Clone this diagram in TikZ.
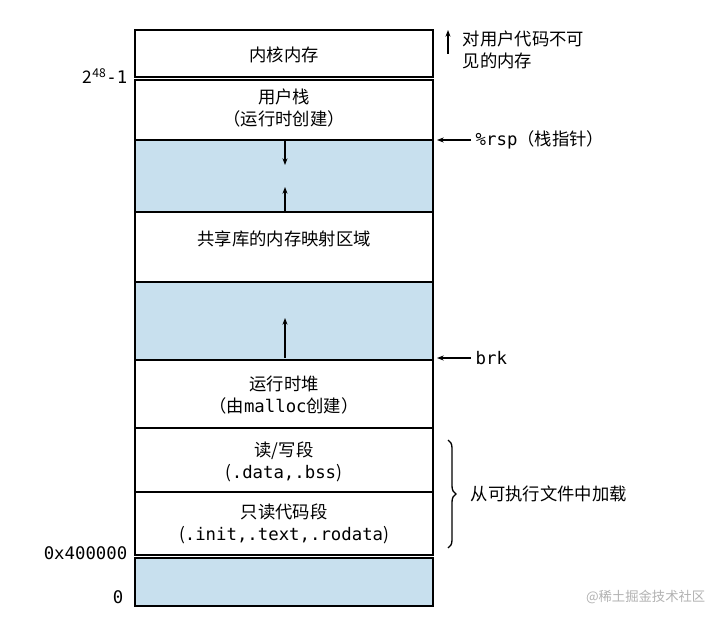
\documentclass[tikz,border=0pt]{standalone}
\usepackage{fontspec}
\setmainfont{Noto Sans CJK SC}[BoldFont={Noto Sans CJK SC Medium}]
\setmonofont{DejaVu Sans Mono}
\usetikzlibrary{decorations.pathreplacing,arrows.meta}
\definecolor{seg}{RGB}{200,224,238}
\tikzset{x=0.75pt,y=-0.75pt,
 box/.style={draw=black,line width=1.2pt},
 blue/.style={box,fill=seg},
 lbl/.style={font=\fontsize{13}{16}\selectfont,align=center},
 arr/.style={-{Stealth[length=5pt]},line width=1pt}}
\begin{document}
\begin{tikzpicture}
\useasboundingbox (0,0) rectangle (714,617);
\fill[white] (0,0) rectangle (714,617);
\draw[box,line width=2pt] (135,30) rectangle (433,77);
\node[lbl] (kern) at (284,55) {内核内存};
\draw[box] (135,80) rectangle (433,140);
\node[lbl] (stack) at (284,108) {用户栈\\（运行时创建）};
\draw[blue] (135,140) rectangle (433,212);
\draw[box] (135,212) rectangle (433,282);
\node[lbl] (shlib) at (284,239) {共享库的内存映射区域};
\draw[blue] (135,282) rectangle (433,360);
\draw[box] (135,360) rectangle (433,428);
\node[lbl] (heap) at (284,395) {运行时堆\\（由\texttt{malloc}创建）};
\draw[box] (135,428) rectangle (433,492);
\node[lbl] (rw) at (284,462) {读/写段\\(\texttt{.data,.bss})};
\draw[box] (135,492) rectangle (433,555);
\node[lbl] (ro) at (284,524) {只读代码段\\(\texttt{.init,.text,.rodata})};
\draw[blue] (135,558) rectangle (433,606);
\coordinate (a1) at (285,140); \coordinate (a2) at (285,165);
\draw[arr] (a1) -- (a2);
\coordinate (b1) at (285,212); \coordinate (b2) at (285,187);
\draw[arr] (b1) -- (b2);
\coordinate (c1) at (285,358); \coordinate (c2) at (285,318);
\draw[arr] (c1) -- (c2);
\node[lbl,anchor=east] (l1) at (132,76) {2\textsuperscript{48}\texttt{-1}};
\node[lbl,anchor=east] (l2) at (132,553) {\texttt{0x400000}};
\node[lbl,anchor=east] (l3) at (128,597) {\texttt{0}};
\coordinate (k1) at (448,54); \coordinate (k2) at (448,30);
\draw[arr] (k1) -- (k2);
\node[lbl,anchor=west,align=left] (kt) at (458,50) {对用户代码不可\\见的内存};
\node[lbl,anchor=west] (rsp) at (471,140) {\texttt{\%rsp}（栈指针）};
\coordinate (r0) at (437,140);
\draw[arr] (rsp.west) -- (r0);
\node[lbl,anchor=west] (brk) at (471,358) {\texttt{brk}};
\coordinate (k0) at (437,358);
\draw[arr] (brk.west) -- (k0);
\draw[decorate,decoration={brace,amplitude=6pt},line width=1pt] (448,440) -- (448,548);
\node[lbl,anchor=west] (load) at (466,494) {从可执行文件中加载};
\node[anchor=east,text=gray!60,font=\fontsize{10}{12}\selectfont] (wm) at (710,597) {@稀土掘金技术社区};
\end{tikzpicture}
\end{document}
